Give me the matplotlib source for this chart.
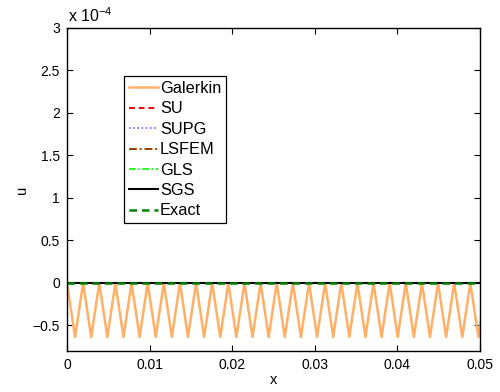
import matplotlib
matplotlib.use("Agg")
import matplotlib.pyplot as plt

plt.rcParams['font.family'] = ['Liberation Sans', 'DejaVu Sans']

# Mesh nodes (h = 1/1024) covering the visible window
x_nodes = [0.000000, 0.000977, 0.001953, 0.002930, 0.003906, 0.004883, 0.005859, 0.006836,
           0.007813, 0.008789, 0.009766, 0.010742, 0.011719, 0.012695, 0.013672, 0.014648,
           0.015625, 0.016602, 0.017578, 0.018555, 0.019531, 0.020508, 0.021484, 0.022461,
           0.023438, 0.024414, 0.025391, 0.026367, 0.027344, 0.028320, 0.029297, 0.030273,
           0.031250, 0.032227, 0.033203, 0.034180, 0.035156, 0.036133, 0.037109, 0.038086,
           0.039063, 0.040039, 0.041016, 0.041992, 0.042969, 0.043945, 0.044922, 0.045898,
           0.046875, 0.047852, 0.048828, 0.049805, 0.050781]

# Galerkin solution (oscillating between 0 and about -0.635e-4)
galerkin_u = [0.0, -6.35e-5, 0.0, -6.35e-5, 0.0, -6.35e-5, 0.0, -6.35e-5,
              0.0, -6.35e-5, 0.0, -6.35e-5, 0.0, -6.35e-5, 0.0, -6.35e-5,
              0.0, -6.35e-5, 0.0, -6.35e-5, 0.0, -6.35e-5, 0.0, -6.35e-5,
              0.0, -6.35e-5, 0.0, -6.35e-5, 0.0, -6.35e-5, 0.0, -6.35e-5,
              0.0, -6.35e-5, 0.0, -6.35e-5, 0.0, -6.35e-5, 0.0, -6.35e-5,
              0.0, -6.35e-5, 0.0, -6.35e-5, 0.0, -6.35e-5, 0.0, -6.35e-5,
              0.0, -6.35e-5, 0.0, -6.35e-5, 0.0]

# Stabilised methods and exact solution: all ~0 in this window
stab_x = [0.0, 0.050781]
su_u = [0.0, 0.0]
supg_u = [0.0, 0.0]
lsfem_u = [0.0, 0.0]
gls_u = [0.0, 0.0]
sgs_u = [0.0, 0.0]
exact_u = [0.0, 0.0]

series_names = ['Galerkin', 'SU', 'SUPG', 'LSFEM', 'GLS', 'SGS', 'Exact']

x_ticks = [0, 0.01, 0.02, 0.03, 0.04, 0.05]
x_ticklabels = ['0', '0.01', '0.02', '0.03', '0.04', '0.05']
y_ticks = [-0.5e-4, 0, 0.5e-4, 1e-4, 1.5e-4, 2e-4, 2.5e-4, 3e-4]
y_ticklabels = ['\u22120.5', '0', '0.5', '1', '1.5', '2', '2.5', '3']

fig = plt.figure(figsize=(5.0, 3.92), dpi=100)
ax = fig.add_axes([0.134, 0.1046, 0.826, 0.824])

ax.plot(x_nodes, galerkin_u, color=(1.0, 0.69, 0.4), lw=1.8, label=series_names[0])
ax.plot(stab_x, su_u, color=(1, 0, 0), ls=(0, (3, 2)), lw=1.4, label=series_names[1])
ax.plot(stab_x, supg_u, color=(0.4, 0.4, 1.0), ls=(0, (1, 1.5)), lw=1.2, label=series_names[2])
ax.plot(stab_x, lsfem_u, color=(0.6, 0.25, 0.0), ls=(0, (4, 1.5, 1, 1.5)), lw=1.4, label=series_names[3])
ax.plot(stab_x, gls_u, color=(0.0, 1.0, 0.0), ls=(0, (4, 1.5, 1, 1.5)), lw=1.2, label=series_names[4])
ax.plot(stab_x, sgs_u, color='black', lw=1.5, label=series_names[5])
ax.plot(stab_x, exact_u, color=(0.0, 0.5, 0.0), ls=(0, (3, 2)), lw=1.8, label=series_names[6])

ax.set_xlim(0, 0.05)
ax.set_ylim(-0.8e-4, 3e-4)
ax.set_xticks(x_ticks)
ax.set_xticklabels(x_ticklabels)
ax.set_yticks(y_ticks)
ax.set_yticklabels(y_ticklabels)
ax.tick_params(direction='in', top=True, right=True, length=4, width=0.8,
               labelsize=10, pad=5)
for s in ax.spines.values():
    s.set_linewidth(1.0)

ax.set_xlabel('x', fontsize=10.5, labelpad=1)
ax.set_ylabel('u', fontsize=10.5, labelpad=3)

fig.text(0.136, 0.935, r'x 10$^{\mathregular{-4}}$', fontsize=11.5, ha='left', va='bottom')

leg = ax.legend(loc='upper left', bbox_to_anchor=(0.138, 0.851), fontsize=11.8,
                frameon=True, fancybox=False, edgecolor='black', framealpha=1,
                handlelength=1.75, handletextpad=0.15, labelspacing=0.33,
                borderpad=0.3, borderaxespad=0)
leg.get_frame().set_linewidth(0.9)

fig.savefig('out.png', dpi=100)
